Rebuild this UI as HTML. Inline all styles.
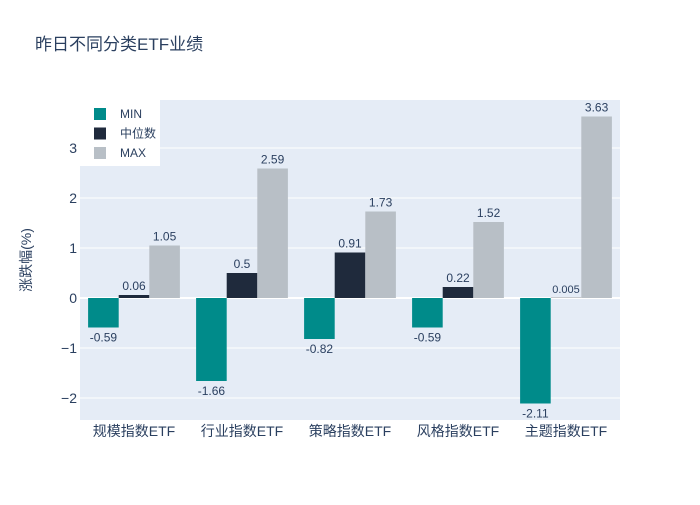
<!DOCTYPE html>
<html><head><meta charset="utf-8"><style>
body{margin:0;background:#fff}
text{font-family:"Liberation Sans","Noto Sans CJK SC",sans-serif;fill:#2a3f5f}
</style></head><body>
<svg id="c" width="700" height="500" xmlns="http://www.w3.org/2000/svg">
<rect x="0" y="0" width="700" height="500" fill="#fff"/>
<text x="35" y="50" font-size="17">昨日不同分类ETF业绩</text>
<rect x="80" y="100" width="540" height="320" fill="#e5ecf6"/>
<g id="grid"></g>
<g id="bars"></g>
<g id="labels"></g>
<text transform="translate(31,260) rotate(-90)" text-anchor="middle" font-size="14">涨跌幅(%)</text>
<g id="legend">
<rect x="80" y="100" width="80" height="66" fill="#fff"/>
</g>
</svg>
<script>
const categories=["规模指数ETF","行业指数ETF","策略指数ETF","风格指数ETF","主题指数ETF"];
const minVals=[-0.59,-1.66,-0.82,-0.59,-2.11];
const medVals=[0.06,0.5,0.91,0.22,0.005];
const maxVals=[1.05,2.59,1.73,1.52,3.63];
const seriesNames=["MIN","中位数","MAX"];
const yTicks=[-2,-1,0,1,2,3];
const colors=["#008b8a","#1f2a3c","#b8bfc6"];
const X0=80,W=540,Y0=100,H=320,yMin=-2.44,yMax=3.96;
const y=v=>Y0+(yMax-v)/(yMax-yMin)*H;
const band=W/categories.length;
const xc=i=>X0+band*(i+0.5);
const NS="http://www.w3.org/2000/svg";
function mk(t,a,p){const e=document.createElementNS(NS,t);for(const k in a)e.setAttribute(k,a[k]);p.appendChild(e);return e;}
const g=document.getElementById('grid');
yTicks.forEach(t=>{
 const l=mk('line',{x1:X0,x2:X0+W,y1:y(t),y2:y(t),stroke:'#fff','stroke-width':t===0?2:1},g);
 
 
 const tx=mk('text',{x:X0-3,y:y(t)+5,'text-anchor':'end','font-size':14},g);
 tx.textContent=t<0?'\u2212'+Math.abs(t):t;
 
 
});
const b=document.getElementById('bars'),lb=document.getElementById('labels');
const series=[minVals,medVals,maxVals];
const gw=band*0.85,bw=gw/3;
categories.forEach((c,i)=>{
 const t=mk('text',{x:xc(i),y:Y0+H+16,'text-anchor':'middle','font-size':14},lb);
 t.textContent=c;
 
 
 series.forEach((s,j)=>{
  const v=s[i],x=xc(i)-gw/2+j*bw;
  const r=mk('rect',{x:x,y:Math.min(y(v),y(0)),width:bw,height:Math.abs(y(v)-y(0)),fill:colors[j]},b);
  
  
  const lt=mk('text',{x:x+bw/2,y:v>=0?y(v)-5:y(v)+14,'text-anchor':'middle','font-size':v===0.005?11:12},lb);
  lt.textContent=v;
  
  
 });
});
const lg=document.getElementById('legend');
seriesNames.forEach((n,j)=>{
 const yy=114+j*19.5;
 const r=mk('rect',{x:94,y:yy-6,width:12,height:12,fill:colors[j]},lg);
 
 
 const t=mk('text',{x:120,y:yy+4,'font-size':12},lg);
 t.textContent=n;
 
 
});
</script>
</body></html>
